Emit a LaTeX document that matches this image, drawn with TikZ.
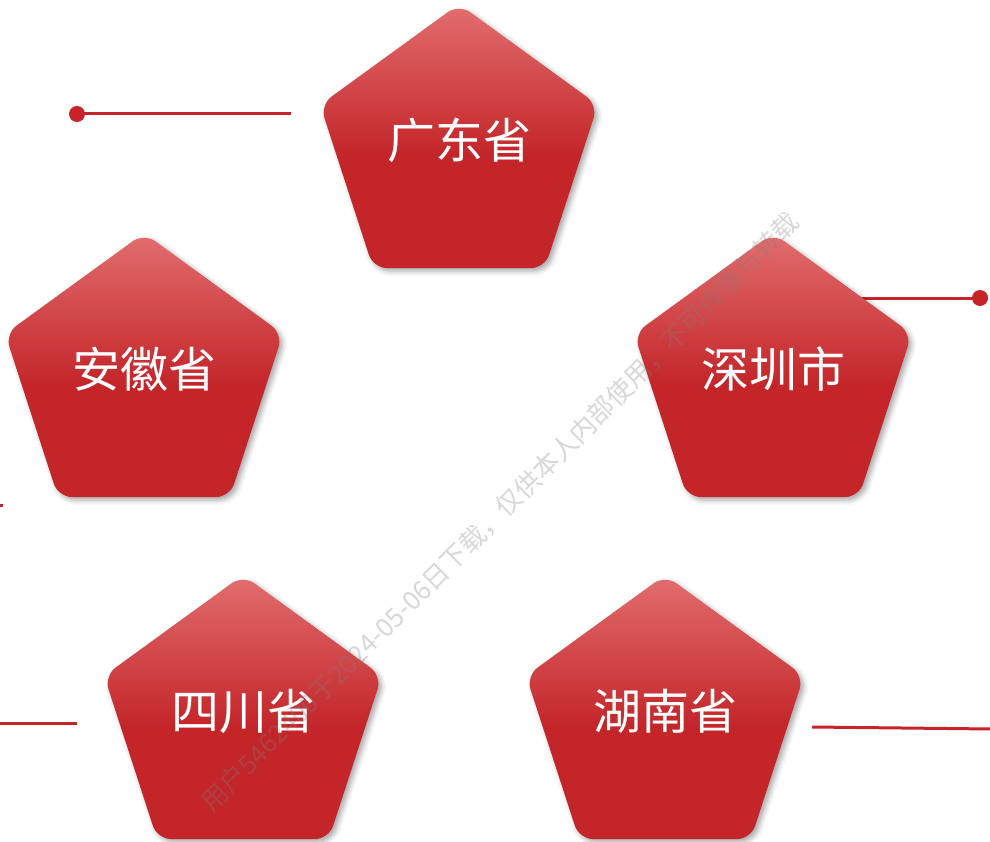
\documentclass[tikz,border=0pt]{standalone}
\usepackage{fontspec}
\newfontfamily\cjk{Noto Sans CJK SC}
\usetikzlibrary{shapes.geometric,shadows.blur}
\definecolor{pdark}{RGB}{195,37,41}
\definecolor{plight}{RGB}{226,110,110}
\definecolor{lred}{RGB}{198,36,40}
\definecolor{wmgray}{RGB}{126,126,126}
\pgfdeclareverticalshading{pentshade}{100bp}{color(0bp)=(pdark); color(25bp)=(pdark); color(46bp)=(pdark); color(75bp)=(plight); color(100bp)=(plight)}
\tikzset{
  pent/.style={regular polygon, regular polygon sides=5, minimum size=292pt,
    inner sep=0pt, outer sep=0pt, rounded corners=14pt, shading=pentshade,
    blur shadow={shadow xshift=3pt, shadow yshift=-3pt, shadow blur radius=5pt, shadow opacity=35}},
  ptext/.style={font=\cjk\fontsize{48}{54}\selectfont, text=white, inner sep=0pt},
  conn/.style={draw=lred, line width=3pt},
  dot/.style={fill=lred},
  wm/.style={font=\cjk\fontsize{26}{30}\selectfont, text=wmgray, text opacity=0.31, rotate=45}
}
\begin{document}
\begin{tikzpicture}[x=1pt,y=-1pt]
\useasboundingbox (0,0) rectangle (990,842);
% connectors
\coordinate (a1) at (77,114);
\coordinate (a2) at (291,114);
\coordinate (b1) at (860,298);
\coordinate (b2) at (980,298);
\coordinate (c1) at (-2,505);
\coordinate (c2) at (3,505);
\coordinate (d1) at (-2,723);
\coordinate (d2) at (77,723);
\coordinate (e1) at (812,727);
\coordinate (e2) at (992,729);
\draw[conn] (a1) -- (a2);
\fill[dot] (a1) circle (8);
\draw[conn] (b1) -- (b2);
\fill[dot] (b2) circle (8);
\draw[conn] (c1) -- (c2);
\draw[conn] (d1) -- (d2);
\draw[conn] (e1) -- (e2);
% pentagons
\node[pent] (gd) at (459,150) {};
\node[pent] (ah) at (144,379) {};
\node[pent] (sz) at (773,379) {};
\node[pent] (sc) at (243,721) {};
\node[pent] (hn) at (665,721) {};
\node[ptext] (tgd) at ([yshift=10pt]gd.center) {广东省};
\node[ptext] (tah) at ([yshift=10pt]ah.center) {安徽省};
\node[ptext] (tsz) at ([yshift=10pt]sz.center) {深圳市};
\node[ptext] (tsc) at ([yshift=10pt]sc.center) {四川省};
\node[ptext] (thn) at ([yshift=10pt]hn.center) {湖南省};
% watermark
\node[wm] (wmk) at (500,512) {用户5462400于2024-05-06日下载，仅供本人内部使用，不可传播与转载};
\end{tikzpicture}
\end{document}
